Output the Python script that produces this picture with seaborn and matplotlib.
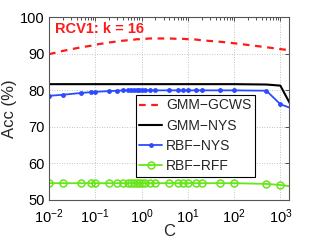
import numpy as np
import pandas as pd
import matplotlib
matplotlib.use("Agg")
import matplotlib.pyplot as plt
import seaborn as sns

# C grid (last point lies just past the right axis limit)
C = [0.01, 0.02, 0.05, 0.08, 0.1, 0.2, 0.3, 0.4, 0.5, 0.6, 0.7, 0.8, 0.9, 1,
     1.2, 1.5, 2, 4, 6, 8, 10, 15, 20, 50, 100, 500, 1000, 2000]

gmm_gcws = [89.9, 90.8, 91.8, 92.2, 92.5, 93.1, 93.4, 93.6, 93.7, 93.8, 93.9, 94.0, 94.0, 94.1,
            94.1, 94.2, 94.2, 94.2, 94.1, 94.1, 94.0, 93.9, 93.7, 93.3, 92.9, 91.8, 91.3, 90.8]
gmm_nys = [81.7, 81.7, 81.7, 81.7, 81.7, 81.7, 81.7, 81.7, 81.7, 81.7, 81.7, 81.7, 81.7, 81.7,
           81.7, 81.7, 81.7, 81.7, 81.7, 81.7, 81.7, 81.7, 81.7, 81.7, 81.7, 81.6, 81.3, 74.2]
rbf_nys = [78.5, 78.8, 79.3, 79.5, 79.6, 79.8, 79.9, 80.0, 80.0, 80.0, 80.0, 80.0, 80.0, 80.0,
           80.0, 80.0, 80.0, 80.0, 80.0, 80.0, 80.0, 80.0, 80.0, 80.0, 80.0, 79.9, 76.2, 74.8]
rbf_rff = [54.6, 54.6, 54.6, 54.6, 54.6, 54.6, 54.6, 54.6, 54.6, 54.6, 54.6, 54.6, 54.6, 54.6,
           54.6, 54.6, 54.6, 54.6, 54.6, 54.6, 54.6, 54.6, 54.6, 54.6, 54.6, 54.4, 54.1, 53.6]

sns.set_style("white")
plt.rcParams["font.family"] = ["Liberation Sans", "DejaVu Sans"]
plt.rcParams["xtick.direction"] = "in"
plt.rcParams["ytick.direction"] = "in"

fig = plt.figure(figsize=(3.19, 2.40), dpi=100)
ax = fig.add_axes([0.1536, 0.1667, 0.7508, 0.7613])

sns.lineplot(x=C, y=gmm_gcws, ax=ax, color="#ff1a1a", lw=1.6, linestyle=(0, (3, 2.5)),
             label="GMM\u2212GCWS")
sns.lineplot(x=C, y=gmm_nys, ax=ax, color="black", lw=1.5, label="GMM\u2212NYS")
sns.lineplot(x=C, y=rbf_nys, ax=ax, color="#2a4bff", lw=1.3, marker="o", markersize=3.5,
             markeredgewidth=0, label="RBF\u2212NYS")
sns.lineplot(x=C, y=rbf_rff, ax=ax, color="#66e619", lw=1.3, marker="o", markersize=5,
             markerfacecolor="none", markeredgecolor="#66e619", markeredgewidth=1.1,
             label="RBF\u2212RFF")

ax.set_xscale("log")
ax.set_xlim(0.01, 1500)
ax.set_ylim(50, 100)
ax.set_yticks([50, 60, 70, 80, 90, 100])
ax.set_xticks([1e-2, 1e-1, 1, 1e1, 1e2, 1e3])
ax.grid(True, which="major", color="#b0b0b0", linestyle=(0, (1, 2)), lw=0.6)
ax.tick_params(which="both", top=True, right=True, labelsize=10.5, length=3, width=0.6,
               colors="#333333", labelcolor="black")
ax.tick_params(axis="x", pad=5)
ax.tick_params(axis="y", pad=3)
ax.tick_params(which="minor", length=1.8)
for s in ax.spines.values():
    s.set_color("#555555")
    s.set_linewidth(0.8)

ax.set_xlabel("C", fontsize=12, labelpad=-1)
ax.set_ylabel("Acc (%)", fontsize=12, labelpad=2)
ax.text(0.025, 0.934, "RCV1: k = 16", transform=ax.transAxes, color="#ff1a1a",
        fontsize=10.5, fontweight="bold", va="center", ha="left")

leg = ax.legend(loc="upper left", bbox_to_anchor=(0.363, 0.575), fontsize=10,
                frameon=True, fancybox=False, edgecolor="black", framealpha=1,
                handlelength=1.6, handletextpad=0.3, borderpad=0.25, labelspacing=0.45,
                borderaxespad=0)
leg.get_frame().set_linewidth(0.8)

fig.savefig("out.png", dpi=100)
